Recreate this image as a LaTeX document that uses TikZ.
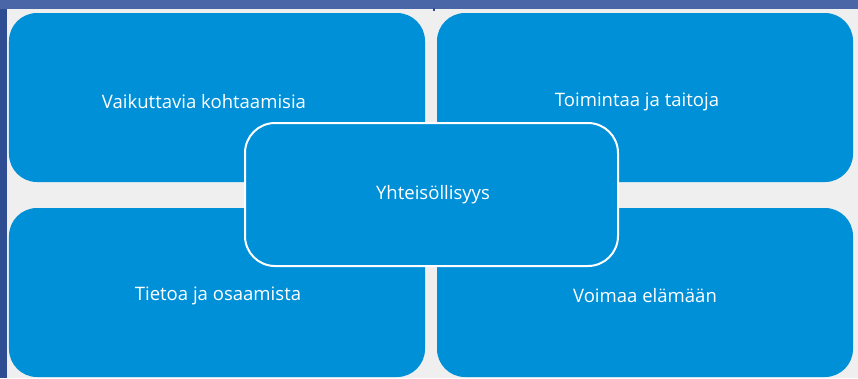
\documentclass[tikz,border=0pt]{standalone}
\usepackage{fontspec}
\setmainfont{Open Sans}
\definecolor{boxblue}{HTML}{0090D8}
\definecolor{bggray}{HTML}{EFEFEF}
\definecolor{topband}{HTML}{4A66A6}
\definecolor{leftband}{HTML}{2F4D92}
\begin{document}
\begin{tikzpicture}[x=1bp,y=-1bp,
  quad/.style={fill=boxblue,draw=none,rounded corners=28bp,minimum width=416bp,minimum height=169bp,inner sep=0pt,outer sep=0pt},
  centre/.style={fill=boxblue,draw=white,line width=2bp,rounded corners=30bp,minimum width=373bp,minimum height=143bp,inner sep=0pt},
  lbl/.style={text=white,font=\fontsize{18.6}{22}\selectfont,inner sep=0pt}]
\useasboundingbox (0,0) rectangle (858,378);
\fill[bggray] (0,0) rectangle (858,378);
\fill[topband] (0,0) rectangle (858,9);
\fill[leftband] (0,9) rectangle (7,378);
\fill[leftband] (433,8) rectangle (435,11);
\node[quad] (tl) at (217,97.5) {};
\node[quad] (tr) at (645,97.5) {};
\node[quad] (bl) at (217,292.5) {};
\node[quad] (br) at (645,292.5) {};
\node[centre] (c) at (431.5,194.5) {};
\node[lbl] (ttl) at (204,102) {Vaikuttavia kohtaamisia};
\node[lbl] (ttr) at (637,102) {Toimintaa ja taitoja};
\node[lbl] (tbl) at (218,296) {Tietoa ja osaamista};
\node[lbl] (tbr) at (645,296) {Voimaa elämään};
\node[lbl] (tc) at (433,195) {Yhteisöllisyys};
\end{tikzpicture}
\end{document}
